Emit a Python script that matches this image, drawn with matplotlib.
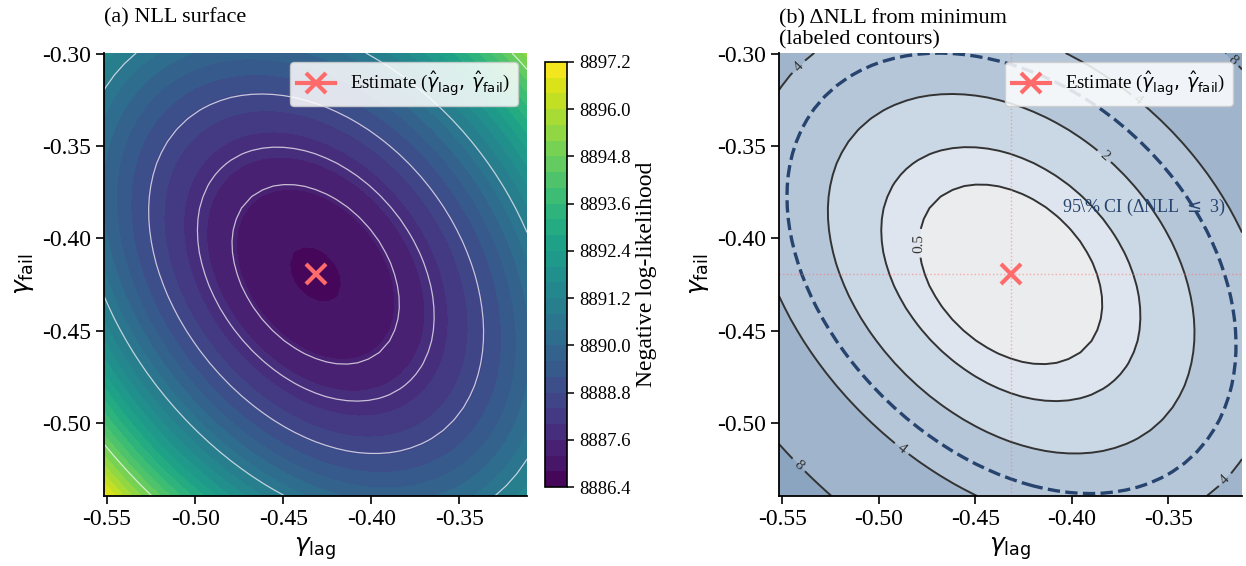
import numpy as np
import matplotlib.pyplot as plt
from matplotlib.colors import ListedColormap, BoundaryNorm

plt.rcParams['font.family'] = ['Liberation Serif', 'DejaVu Serif']
plt.rcParams['mathtext.fontset'] = 'dejavusans'

# maximum likelihood estimate
gamma_lag_hat = -0.4317
gamma_fail_hat = -0.4196
nll_min = 8886.75

# shape of the NLL surface (quadratic + slight skew)
half_width = 0.12
n_grid = 41
curv_lag = 250.0
curv_cross = 165.0
curv_fail = 238.0
skew = -60.0

# contour levels of delta NLL
delta_levels = [0.5, 1, 2, 4, 8]
ci_level = 3
fill_levels = [0, 0.5, 1, 2, 4, 8, 20]
fill_colors = ['#ebecee', '#dee5ee', '#cad7e4', '#b5c6d9', '#a0b5cc', '#8ba4c0']
cbar_ticks = [8886.4, 8887.6, 8888.8, 8890.0, 8891.2, 8892.4, 8893.6, 8894.8, 8896.0, 8897.2]
xticks = [-0.55, -0.50, -0.45, -0.40, -0.35]
yticks = [-0.30, -0.35, -0.40, -0.45, -0.50]

# where the contour labels sit
label_spots = [(-0.4797, -0.4027), (-0.3839, -0.3565), (-0.3675, -0.3276),
               (-0.5445, -0.3040), (-0.4875, -0.5132), (-0.5410, -0.5223),
               (-0.3197, -0.5316), (-0.3207, -0.3075)]

g_lag = np.linspace(gamma_lag_hat - half_width, gamma_lag_hat + half_width, n_grid)
g_fail = np.linspace(gamma_fail_hat - half_width, gamma_fail_hat + half_width, n_grid)
X, Y = np.meshgrid(g_lag, g_fail)
U = X - gamma_lag_hat
V = Y - gamma_fail_hat
dnll = curv_lag * U**2 + curv_cross * U * V + curv_fail * V**2 + skew * (U + V)**3
nll = nll_min + dnll

fig = plt.figure(figsize=(12.46, 5.66), dpi=100)
W, H = 1246, 566
ax1 = fig.add_axes([104 / W, 1 - 496 / H, 423 / W, 443 / H])
cax = fig.add_axes([545 / W, 1 - 487 / H, 22 / W, 425 / H])
ax2 = fig.add_axes([779 / W, 1 - 496 / H, 463 / W, 443 / H])

red = '#ff6b6b'
est_label = r'Estimate ($\hat{\gamma}_{\mathrm{lag}},\,\hat{\gamma}_{\mathrm{fail}}$)'

# (a) NLL surface
cf = ax1.contourf(X, Y, nll, levels=30, cmap='viridis')
ax1.contour(X, Y, nll, levels=[nll_min + d for d in delta_levels],
            colors='white', linewidths=0.9, alpha=0.7)
ax1.plot([gamma_lag_hat], [gamma_fail_hat], marker='x', color=red, ms=14, mew=3, lw=3,
         label=est_label)
ax1.legend(loc='upper right', fontsize=13.5, framealpha=0.85, edgecolor='#cccccc',
           handlelength=2.0)
ax1.set_title('(a) NLL surface', loc='left', fontsize=16, pad=22)

cb = fig.colorbar(cf, cax=cax)
cb.set_ticks(cbar_ticks)
cb.set_ticklabels(['%.1f' % t for t in cbar_ticks])
cb.ax.tick_params(labelsize=13.5, length=5, width=1.1)
cb.outline.set_linewidth(1.2)
cb.set_label('Negative log-likelihood', fontsize=17, labelpad=4)

# (b) delta NLL
ax2.contourf(X, Y, dnll, levels=fill_levels, cmap=ListedColormap(fill_colors),
             norm=BoundaryNorm(fill_levels, len(fill_colors)))
cs = ax2.contour(X, Y, dnll, levels=delta_levels, colors='#333333', linewidths=1.4)
ax2.clabel(cs, fmt='%g', fontsize=11, colors='#333333', manual=label_spots, inline=True)
ax2.contour(X, Y, dnll, levels=[ci_level], colors='#27446e', linewidths=2.4,
            linestyles='--')
ax2.text(-0.4048, -0.3835, '95\\% CI (ΔNLL $\\leq$ 3)', color='#27446e',
         fontsize=13, ha='left', va='center')
ax2.axvline(gamma_lag_hat, color=red, ls=':', lw=1.0, alpha=0.5)
ax2.axhline(gamma_fail_hat, color=red, ls=':', lw=1.0, alpha=0.5)
ax2.plot([gamma_lag_hat], [gamma_fail_hat], marker='x', color=red, ms=14, mew=3, lw=3,
         label=est_label)
ax2.legend(loc='upper right', fontsize=13.5, framealpha=0.85, edgecolor='#cccccc',
           handlelength=2.0)
ax2.set_title('(b) ΔNLL from minimum\n(labeled contours)', loc='left', fontsize=16,
              pad=6, linespacing=1.15)

for ax in (ax1, ax2):
    ax.set_xlim(g_lag[0], g_lag[-1])
    ax.set_ylim(g_fail[0], g_fail[-1])
    ax.set_xticks(xticks)
    ax.set_yticks(yticks)
    ax.set_xticklabels(['%.2f' % t for t in xticks])
    ax.set_yticklabels(['%.2f' % t for t in yticks])
    ax.tick_params(labelsize=17, length=6, width=1.2)
    ax.spines['top'].set_visible(False)
    ax.spines['right'].set_visible(False)
    ax.spines['left'].set_linewidth(1.3)
    ax.spines['bottom'].set_linewidth(1.3)
    ax.set_xlabel(r'$\gamma_{\mathrm{lag}}$', fontsize=18)
    ax.set_ylabel(r'$\gamma_{\mathrm{fail}}$', fontsize=18)

fig.savefig('out.png', dpi=100)
